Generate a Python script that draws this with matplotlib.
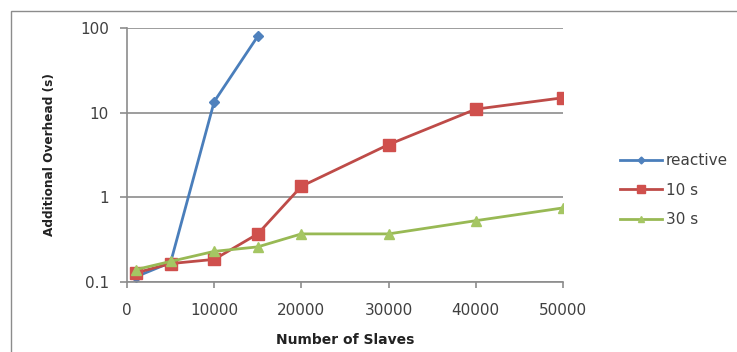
import matplotlib
matplotlib.use('Agg')
import matplotlib.pyplot as plt
from matplotlib.patches import Rectangle

# --- data ---
reactive_x = [1000, 5000, 10000, 15000]
reactive_y = [0.115, 0.17, 13.5, 80]

ten_x = [1000, 5000, 10000, 15000, 20000, 30000, 40000, 50000]
ten_y = [0.128, 0.165, 0.185, 0.37, 1.35, 4.2, 11.0, 15.0]

thirty_x = [1000, 5000, 10000, 15000, 20000, 30000, 40000, 50000]
thirty_y = [0.14, 0.175, 0.23, 0.26, 0.37, 0.37, 0.53, 0.75]

x_ticks = [0, 10000, 20000, 30000, 40000, 50000]
y_ticks = [0.1, 1, 10, 100]
y_tick_labels = ['0.1', '1', '10', '100']

GRAY = '#8c8c8c'
TXT = '#404040'

fig = plt.figure(figsize=(7.37, 3.52), dpi=100)
# outer frame of the original screenshot
fig.patches.append(Rectangle((11 / 737, -0.1), 1.0, 1.1 - 11 / 352,
                             transform=fig.transFigure, fill=False,
                             edgecolor=GRAY, linewidth=1.0))

ax = fig.add_axes([127 / 737, 1 - 282 / 352, 436 / 737, 254 / 352])
ax.set_yscale('log')
ax.set_xlim(0, 50000)
ax.set_ylim(0.1, 100)

ax.plot(reactive_x, reactive_y, color='#4A7EBB', linewidth=2.0, marker='D',
        markersize=5, markerfacecolor='#4F81BD', markeredgecolor='#4F81BD', label='reactive')
ax.plot(ten_x, ten_y, color='#BE4B48', linewidth=2.0, marker='s',
        markersize=8, markerfacecolor='#D0504D', markeredgecolor='#D0504D', label='10 s')
ax.plot(thirty_x, thirty_y, color='#98B954', linewidth=2.0, marker='^',
        markersize=7, markerfacecolor='#A5C663', markeredgecolor='#A5C663', label='30 s')

ax.set_xticks(x_ticks)
ax.set_xticklabels([str(v) for v in x_ticks])
ax.set_yticks(y_ticks)
ax.set_yticklabels(y_tick_labels)
ax.minorticks_off()
ax.yaxis.grid(True, color=GRAY, linewidth=1.2)
ax.set_axisbelow(True)

for s in ['top', 'right']:
    ax.spines[s].set_visible(False)
for s in ['left', 'bottom']:
    ax.spines[s].set_color(GRAY)
    ax.spines[s].set_linewidth(1.2)
ax.tick_params(axis='x', direction='out', length=4, width=1.2, color=GRAY,
               labelsize=11, labelcolor=TXT, pad=11)
ax.tick_params(axis='y', direction='out', length=5, width=1.2, color=GRAY,
               labelsize=11, labelcolor=TXT, pad=8)

ax.set_xlabel('Number of Slaves', fontsize=10, fontweight='bold', color='#222222', labelpad=11)
ax.set_ylabel('Additional Overhead (s)', fontsize=8.7, fontweight='bold', color='#222222', labelpad=17)

ax.legend(loc='center left', bbox_to_anchor=(1.13, 0.362), frameon=False,
          fontsize=11, handlelength=2.8, markerscale=0.7, labelspacing=0.95,
          handletextpad=0.2, borderpad=0, borderaxespad=0, labelcolor=TXT)

plt.savefig('out.png', dpi=100)
plt.close('all')
